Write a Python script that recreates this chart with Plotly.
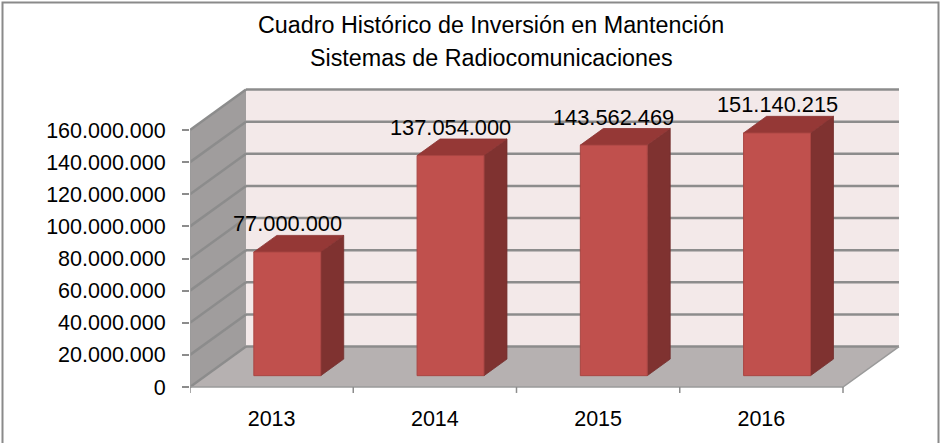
import plotly.graph_objects as go

# ---------------- data ----------------
years = ["2013", "2014", "2015", "2016"]
values = [77000000, 137054000, 143562469, 151140215]
y_tick_values = [0, 20000000, 40000000, 60000000, 80000000,
                 100000000, 120000000, 140000000, 160000000]
y_tick_labels = ["0", "20.000.000", "40.000.000", "60.000.000", "80.000.000",
                 "100.000.000", "120.000.000", "140.000.000", "160.000.000"]
title_lines = ["Cuadro Histórico de Inversión en Mantención",
               "Sistemas de Radiocomunicaciones"]


def fmt(v):
    return f"{v:,}".replace(",", ".")


# ---------------- 3D geometry (data units) ----------------
DX = 0.343          # depth offset along x (category units)
DY = 25.2e6         # depth offset along y (value units)
YMAX = y_tick_values[-1]
T1, T2 = 0.28, 0.69  # bar front / back depth fractions
BW = 0.41           # bar width (category units)
N = len(years)
XL, XR = -0.5, N - 0.5

FONT = "Liberation Sans, Arial, sans-serif"
GRID = "#8C8C8C"

fig = go.Figure()


def poly(xs, ys, fill, line_color=None, lw=0):
    fig.add_trace(go.Scatter(
        x=xs + [xs[0]], y=ys + [ys[0]], mode="lines", fill="toself",
        fillcolor=fill, line=dict(color=line_color or fill, width=lw),
        hoverinfo="skip", showlegend=False))


def lines(xs, ys, color, width):
    fig.add_trace(go.Scatter(x=xs, y=ys, mode="lines",
                             line=dict(color=color, width=width),
                             hoverinfo="skip", showlegend=False))


# back wall
poly([XL + DX, XR + DX, XR + DX, XL + DX], [DY, DY, YMAX + DY, YMAX + DY], "#F3E9E9")
# side wall
poly([XL, XL + DX, XL + DX, XL], [0, DY, YMAX + DY, YMAX], "#A09D9D")
# floor
poly([XL, XR, XR + DX, XL + DX], [0, 0, DY, DY], "#B6B1B1")

# gridlines (back wall + side wall)
gx, gy = [], []
for v in y_tick_values:
    gx += [XL + DX, XR + DX, None, XL, XL + DX, None]
    gy += [v + DY, v + DY, None, v, v + DY, None]
lines(gx, gy, GRID, 2.5)

# front edges: axis line and floor front edge
lines([XL, XL, XR, XR + DX, XR + DX], [YMAX, 0, 0, DY, DY], "#9A9A9A", 1.5)

# category boundary ticks
tx, ty = [], []
for i in range(N + 1):
    tx += [XL + i, XL + i, None]
    ty += [0, -3.7e6, None]
lines(tx, ty, "#8C8C8C", 1.5)

# bars
for i, v in enumerate(values):
    x0 = i - BW / 2
    x1 = i + BW / 2
    fx1, fy1 = T1 * DX, T1 * DY
    fx2, fy2 = T2 * DX, T2 * DY
    # side face
    poly([x1 + fx1, x1 + fx2, x1 + fx2, x1 + fx1],
         [fy1, fy2, v + fy2, v + fy1], "#7F3230", "#74302E", 0.8)
    # top face
    poly([x0 + fx1, x1 + fx1, x1 + fx2, x0 + fx2],
         [v + fy1, v + fy1, v + fy2, v + fy2], "#953836", "#8A3432", 0.8)
    # front face
    poly([x0 + fx1, x1 + fx1, x1 + fx1, x0 + fx1],
         [fy1, fy1, v + fy1, v + fy1], "#C0504D", "#A94643", 1)
    fig.add_annotation(x=i + fx1, y=v + fy2, text=fmt(v), showarrow=False,
                       xanchor="center", yanchor="bottom", yshift=-3,
                       font=dict(family=FONT, size=21.8, color="#000000"))

# ---------------- layout ----------------
L, R, T, B = 190, 905, 80, 393
PXX = 163.25          # px per category
PXY = 1.606e-6        # px per value unit
W, H = 940, 443

fig.update_layout(
    width=W, height=H,
    margin=dict(l=L, r=W - R, t=T, b=H - B),
    paper_bgcolor="white", plot_bgcolor="white",
    showlegend=False,
    font=dict(family=FONT, size=21.5, color="#000000"),
    xaxis=dict(range=[XL, XL + (R - L) / PXX], tickvals=list(range(N)),
               ticktext=years, ticks="", showgrid=False, zeroline=False,
               showline=False, ticklabelstandoff=10, fixedrange=True,
               automargin=False),
    yaxis=dict(range=[-(B - 387) / PXY, (387 - T) / PXY],
               tickvals=y_tick_values, ticktext=y_tick_labels,
               ticks="outside", ticklen=7, tickcolor="#8C8C8C", tickwidth=1.5,
               showgrid=False, zeroline=False, showline=False,
               ticklabelstandoff=12, fixedrange=True, automargin=False),
)


def px_x(p):
    return (p - L) / (R - L)


def px_y(p):
    return (B - p) / (B - T)


fig.add_annotation(xref="paper", yref="paper", x=px_x(491), y=px_y(25),
                   text=title_lines[0], showarrow=False, xanchor="center",
                   yanchor="middle", font=dict(family=FONT, size=23.3))
fig.add_annotation(xref="paper", yref="paper", x=px_x(491), y=px_y(58),
                   text=title_lines[1], showarrow=False, xanchor="center",
                   yanchor="middle", font=dict(family=FONT, size=23.3))

fig.add_shape(type="rect", xref="paper", yref="paper",
              x0=px_x(2.5), x1=px_x(938.5), y0=px_y(447), y1=px_y(2.5),
              line=dict(color="#8A8A8A", width=2), layer="above")

fig.write_html("out.html", config={"displayModeBar": False},
               post_script="document.body.style.margin='0px';")
